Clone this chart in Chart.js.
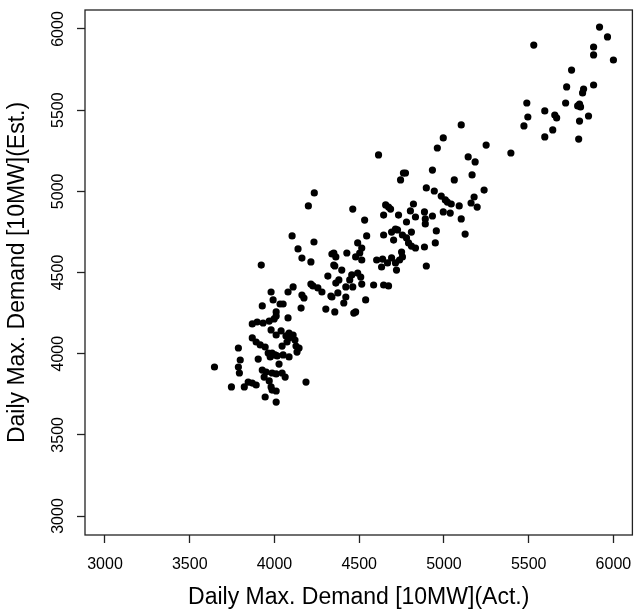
<!DOCTYPE html>
<html lang="en">
<head>
    <meta charset="UTF-8">
    <title>Daily Max. Demand - Actual vs Estimated</title>
    <style>
        body { margin: 0; background: #fff; }
        #wrap { width: 636px; height: 611px; }
    </style>
</head>
<body>
    <div id="wrap">
        <canvas id="myChart" width="636" height="611"></canvas>
    </div>

    <script src="https://cdn.jsdelivr.net/npm/chart.js"></script>
    <script>
        // tick labels
        const xTicks = [3000, 3500, 4000, 4500, 5000, 5500, 6000];
        const yTicks = [3000, 3500, 4000, 4500, 5000, 5500, 6000];

        // actual daily max demand [10MW]
        const actual = [
            5918, 5965, 5883, 5883, 6000, 5530, 5753, 5724, 5824, 5818, 5883, 5489, 5718, 5800, 5806, 5789,
            5595, 5654, 5665, 5853, 5495, 5800, 5472, 5642, 5595, 5795, 5249, 5395, 5143, 5184, 5166, 5237,
            5178, 5160, 5196,
            5102, 4996, 4961, 4614, 4761, 4773, 4744, 4932, 5061, 4896, 4943, 4984, 5008, 5020, 5043, 5090,
            4996, 5037, 5102, 5125, 4820, 4802, 4885, 4832, 4890, 4932, 4890, 4779, 4732, 4673, 4656, 4685,
            4644, 4532, 4462, 4808, 4955, 4949, 4885, 4896, 4726, 4714, 4691, 4644, 4544, 4703, 4755, 4779,
            4791, 4808, 4832, 4750, 4755, 4738, 4714, 4691, 4667, 4720, 4638, 4603, 4632, 4491, 4515, 4503,
            4515, 4479, 4427, 4350, 4362, 4356, 4397, 4456, 4491, 4509, 4515, 4462, 4444, 4421, 4585, 4644,
            4673, 4538, 4380, 4362, 4374, 4339, 4421, 4409, 4468, 4479, 4356,
            4104, 4139, 4233, 4162, 4215, 3922, 4339, 4350, 4315, 4215, 4227, 4256, 4280, 4110, 4080, 3980,
            4162, 4174, 4333, 3992, 4033, 4051, 3928, 4010, 4157, 4080, 4303, 3869, 3898, 3933, 3969, 3998,
            4010, 3980, 4010, 4039, 4086, 4110, 4068, 3869, 3892, 3916, 3945, 4086, 4074, 4121, 4045, 4127,
            4145, 4133, 3787, 3963, 3986, 4004, 4016, 4051, 4086, 3975, 3904, 3798, 4027, 3787, 3646, 3928,
            3951, 3986, 4010, 4045, 4063, 3793, 3939, 3969, 4186, 3845, 3869, 3892, 3822, 3746, 3980, 3986,
            4010, 3945, 4010, 4200, 4235
        ];

        // estimated daily max demand [10MW]
        const estimated = [
            6012, 5951, 5889, 5840, 5809, 5901, 5747, 5643, 5630, 5606, 5655, 5544, 5544, 5538, 5520, 5526,
            5495, 5470, 5452, 5464, 5458, 5433, 5403, 5378, 5335, 5322, 5285, 5236, 5212, 5181, 5101, 5008,
            4965, 4928, 4903,
            5409, 5329, 5267, 5224, 5113, 5113, 5070, 5131, 5070, 5021, 5002, 4971, 4947, 4934, 4922, 4910,
            4873, 4866, 4830, 4737, 4922, 4879, 4873, 4842, 4830, 4848, 4799, 4811, 4854, 4903, 4916, 4891,
            4854, 4823, 4891, 4749, 4756, 4682, 4657, 4540, 4762, 4768, 4749, 4731, 4725, 4700, 4731, 4713,
            4682, 4663, 4651, 4626, 4596, 4577, 4559, 4590, 4559, 4515, 4583, 4577, 4534, 4682, 4651, 4620,
            4577, 4596, 4620, 4620, 4596, 4540, 4515, 4485, 4497, 4472, 4429, 4411, 4454, 4411, 4423, 4423,
            4417, 4331, 4454, 4435, 4374, 4349, 4349, 4312, 4250, 4257, 4257,
            4725, 4645, 4688, 4589, 4565, 4546, 4614, 4546, 4478, 4429, 4417, 4405, 4380, 4411, 4380, 4380,
            4361, 4343, 4355, 4331, 4306, 4306, 4294, 4257, 4281, 4220, 4275, 4183, 4195, 4189, 4201, 4214,
            4232, 4146, 4115, 4140, 4127, 4115, 4109, 4097, 4072, 4054, 4041, 4097, 4072, 4084, 4047, 4047,
            4035, 4010, 4035, 4004, 4004, 3992, 3986, 3992, 3980, 3980, 3967, 3961, 3936, 3918, 3918, 3899,
            3887, 3881, 3875, 3881, 3856, 3881, 3856, 3832, 3825, 3825, 3819, 3807, 3795, 3795, 3795, 3776,
            3770, 3733, 3702, 4910, 4990
        ];

        const points = actual.map((x, i) => ({ x: x, y: estimated[i] }));
        const fontFamily = '"Liberation Sans", Arial, sans-serif';

        // frame around the plot region and the rotated y tick labels
        const framePlugin = {
            id: 'frame',
            afterDraw(chart) {
                const ctx = chart.ctx;
                const a = chart.chartArea;
                ctx.save();
                ctx.strokeStyle = '#222';
                ctx.lineWidth = 1.3;
                ctx.strokeRect(a.left, a.top, a.right - a.left, a.bottom - a.top);

                const yScale = chart.scales.y;
                ctx.fillStyle = '#000';
                ctx.font = '16px ' + fontFamily;
                ctx.textAlign = 'center';
                ctx.textBaseline = 'alphabetic';
                yTicks.forEach(v => {
                    ctx.save();
                    ctx.translate(63, yScale.getPixelForValue(v));
                    ctx.rotate(-Math.PI / 2);
                    ctx.fillText(String(v), 0, 0);
                    ctx.restore();
                });
                ctx.restore();
            }
        };

        const ctx = document.getElementById('myChart').getContext('2d');
        new Chart(ctx, {
            type: 'scatter',
            data: {
                datasets: [{
                    data: points,
                    backgroundColor: '#000',
                    borderWidth: 0,
                    pointRadius: 3.6,
                    pointHoverRadius: 3.6
                }]
            },
            options: {
                responsive: false,
                animation: false,
                layout: { padding: { top: 10, right: 1, left: 0, bottom: 0 } },
                plugins: {
                    legend: { display: false },
                    tooltip: { enabled: false }
                },
                scales: {
                    x: {
                        type: 'linear',
                        min: 2882,
                        max: 6112,
                        afterBuildTicks: s => { s.ticks = xTicks.map(v => ({ value: v })); },
                        afterFit: s => {
                            s.height = 76;
                            s.paddingLeft = 0;
                            s.paddingRight = 0;
                        },
                        border: { display: false },
                        grid: { drawOnChartArea: false, tickLength: 8, tickColor: '#222', tickWidth: 1.3 },
                        ticks: {
                            color: '#000',
                            padding: 12,
                            maxRotation: 0,
                            font: { family: fontFamily, size: 16 },
                            callback: v => String(v)
                        },
                        title: {
                            display: true,
                            text: 'Daily Max. Demand [10MW](Act.)',
                            color: '#000',
                            font: { family: fontFamily, size: 23 },
                            padding: { top: 0, bottom: 0 }
                        }
                    },
                    y: {
                        type: 'linear',
                        min: 2883,
                        max: 6117,
                        afterBuildTicks: s => { s.ticks = yTicks.map(v => ({ value: v })); },
                        afterFit: s => {
                            s.width = 85;
                            s.paddingTop = 0;
                            s.paddingBottom = 0;
                        },
                        border: { display: false },
                        grid: { drawOnChartArea: false, tickLength: 8, tickColor: '#222', tickWidth: 1.3 },
                        ticks: { display: false },
                        title: {
                            display: true,
                            text: 'Daily Max. Demand [10MW](Est.)',
                            color: '#000',
                            font: { family: fontFamily, size: 23 },
                            padding: { top: 4, bottom: 0 }
                        }
                    }
                }
            },
            plugins: [framePlugin]
        });
    </script>
</body>
</html>
